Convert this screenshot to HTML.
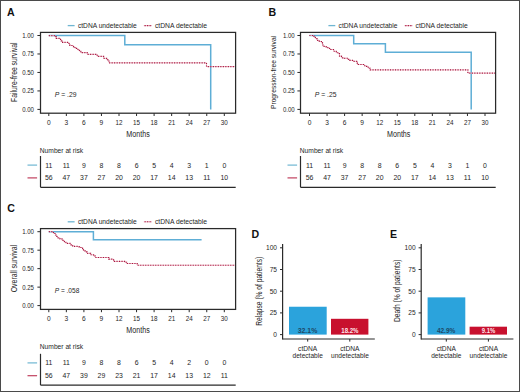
<!DOCTYPE html>
<html><head><meta charset="utf-8"><style>
html,body{margin:0;padding:0;background:#fff;}
#fig{position:relative;width:520px;height:392px;overflow:hidden;}
svg{display:block;}
text{font-family:"Liberation Sans", sans-serif;}
</style></head><body><div id="fig">
<svg width="520" height="392" viewBox="0 0 520 392" font-family='"Liberation Sans", sans-serif' fill="#262626">
<rect x="0" y="0" width="520" height="392" fill="#fff"/>
<g transform="translate(0,0)">
<text x="7.00" y="15.60" font-size="10.6" font-weight="bold" fill="#111">A</text>
<line x1="67.70" y1="25.60" x2="74.60" y2="25.60" stroke="#6fb6d2" stroke-width="1.3"/>
<text x="77.90" y="27.50" font-size="6.7" textLength="58.90" lengthAdjust="spacingAndGlyphs" fill="#262626">ctDNA undetectable</text>
<line x1="143.80" y1="25.60" x2="151.90" y2="25.60" stroke="#e9b5c3" stroke-width="1.2"/>
<line x1="144.60" y1="25.60" x2="151.90" y2="25.60" stroke="#a8173f" stroke-width="1.1" stroke-dasharray="1.1 1.4"/>
<text x="154.90" y="27.50" font-size="6.7" textLength="52.20" lengthAdjust="spacingAndGlyphs" fill="#262626">ctDNA detectable</text>
<line x1="37.40" y1="109.40" x2="40.40" y2="109.40" stroke="#2a2a2a" stroke-width="1"/>
<text x="34.00" y="111.80" font-size="6.8" text-anchor="end" textLength="11.80" lengthAdjust="spacingAndGlyphs" fill="#262626">0.00</text>
<line x1="37.40" y1="90.93" x2="40.40" y2="90.93" stroke="#2a2a2a" stroke-width="1"/>
<text x="34.00" y="93.33" font-size="6.8" text-anchor="end" textLength="11.80" lengthAdjust="spacingAndGlyphs" fill="#262626">0.25</text>
<line x1="37.40" y1="72.45" x2="40.40" y2="72.45" stroke="#2a2a2a" stroke-width="1"/>
<text x="34.00" y="74.85" font-size="6.8" text-anchor="end" textLength="11.80" lengthAdjust="spacingAndGlyphs" fill="#262626">0.50</text>
<line x1="37.40" y1="53.98" x2="40.40" y2="53.98" stroke="#2a2a2a" stroke-width="1"/>
<text x="34.00" y="56.38" font-size="6.8" text-anchor="end" textLength="11.80" lengthAdjust="spacingAndGlyphs" fill="#262626">0.75</text>
<line x1="37.40" y1="35.50" x2="40.40" y2="35.50" stroke="#2a2a2a" stroke-width="1"/>
<text x="34.00" y="37.90" font-size="6.8" text-anchor="end" textLength="11.80" lengthAdjust="spacingAndGlyphs" fill="#262626">1.00</text>
<line x1="48.80" y1="113.20" x2="48.80" y2="116.00" stroke="#2a2a2a" stroke-width="1"/>
<text x="48.80" y="124.70" font-size="6.6" text-anchor="middle" fill="#262626">0</text>
<line x1="66.35" y1="113.20" x2="66.35" y2="116.00" stroke="#2a2a2a" stroke-width="1"/>
<text x="66.35" y="124.70" font-size="6.6" text-anchor="middle" fill="#262626">3</text>
<line x1="83.90" y1="113.20" x2="83.90" y2="116.00" stroke="#2a2a2a" stroke-width="1"/>
<text x="83.90" y="124.70" font-size="6.6" text-anchor="middle" fill="#262626">6</text>
<line x1="101.45" y1="113.20" x2="101.45" y2="116.00" stroke="#2a2a2a" stroke-width="1"/>
<text x="101.45" y="124.70" font-size="6.6" text-anchor="middle" fill="#262626">9</text>
<line x1="119.00" y1="113.20" x2="119.00" y2="116.00" stroke="#2a2a2a" stroke-width="1"/>
<text x="119.00" y="124.70" font-size="6.6" text-anchor="middle" textLength="7.00" lengthAdjust="spacingAndGlyphs" fill="#262626">12</text>
<line x1="136.55" y1="113.20" x2="136.55" y2="116.00" stroke="#2a2a2a" stroke-width="1"/>
<text x="136.55" y="124.70" font-size="6.6" text-anchor="middle" textLength="7.00" lengthAdjust="spacingAndGlyphs" fill="#262626">15</text>
<line x1="154.10" y1="113.20" x2="154.10" y2="116.00" stroke="#2a2a2a" stroke-width="1"/>
<text x="154.10" y="124.70" font-size="6.6" text-anchor="middle" textLength="7.00" lengthAdjust="spacingAndGlyphs" fill="#262626">18</text>
<line x1="171.65" y1="113.20" x2="171.65" y2="116.00" stroke="#2a2a2a" stroke-width="1"/>
<text x="171.65" y="124.70" font-size="6.6" text-anchor="middle" textLength="7.00" lengthAdjust="spacingAndGlyphs" fill="#262626">21</text>
<line x1="189.20" y1="113.20" x2="189.20" y2="116.00" stroke="#2a2a2a" stroke-width="1"/>
<text x="189.20" y="124.70" font-size="6.6" text-anchor="middle" textLength="7.00" lengthAdjust="spacingAndGlyphs" fill="#262626">24</text>
<line x1="206.75" y1="113.20" x2="206.75" y2="116.00" stroke="#2a2a2a" stroke-width="1"/>
<text x="206.75" y="124.70" font-size="6.6" text-anchor="middle" textLength="7.00" lengthAdjust="spacingAndGlyphs" fill="#262626">27</text>
<line x1="224.30" y1="113.20" x2="224.30" y2="116.00" stroke="#2a2a2a" stroke-width="1"/>
<text x="224.30" y="124.70" font-size="6.6" text-anchor="middle" textLength="7.00" lengthAdjust="spacingAndGlyphs" fill="#262626">30</text>
<text x="138.00" y="137.00" font-size="8.4" text-anchor="middle" textLength="23.40" lengthAdjust="spacingAndGlyphs" fill="#262626">Months</text>
<text transform="translate(17.00,72.20) rotate(-90)" font-size="8.2" text-anchor="middle" textLength="59.60" lengthAdjust="spacingAndGlyphs" fill="#262626">Failure-free survival</text>
<text x="54.7" y="96.9" font-size="7.2" textLength="21.80" lengthAdjust="spacingAndGlyphs" fill="#262626"><tspan font-style="italic">P</tspan> = .29</text>
<path d="M48.80,35.50H124.80V44.80H210.70V109.40" fill="none" stroke="#5eaed6" stroke-width="1.5"/>
<path d="M48.80,35.60H55.00V36.60H56.30V38.40H60.00V39.40H61.20V40.80H62.60V42.40H69.00V44.00H69.80V45.50H73.50V46.90H75.00V48.40H78.00V50.20H79.50V51.20H80.80V52.60H87.20V54.30H97.20V56.30H103.60V58.30H106.60V59.60H107.80V61.00H109.00V62.80H206.50V66.60H235.60" fill="none" stroke="#ecbac8" stroke-width="1.0"/>
<path d="M48.80,35.60H55.00V36.60H56.30V38.40H60.00V39.40H61.20V40.80H62.60V42.40H69.00V44.00H69.80V45.50H73.50V46.90H75.00V48.40H78.00V50.20H79.50V51.20H80.80V52.60H87.20V54.30H97.20V56.30H103.60V58.30H106.60V59.60H107.80V61.00H109.00V62.80H206.50V66.60H235.60" fill="none" stroke="#a8173f" stroke-width="1.15" stroke-dasharray="1.1 1.4"/>
<rect x="40.5" y="32.4" width="195.1" height="80.8" fill="none" stroke="#2a2a2a" stroke-width="1.25"/>
<text x="39.80" y="153.20" font-size="6.7" textLength="43.40" lengthAdjust="spacingAndGlyphs" fill="#262626">Number at risk</text>
<line x1="40.50" y1="156.00" x2="40.50" y2="187.30" stroke="#2a2a2a" stroke-width="1.2"/>
<line x1="40.50" y1="187.30" x2="235.70" y2="187.30" stroke="#2a2a2a" stroke-width="1.2"/>
<line x1="27.50" y1="165.10" x2="37.10" y2="165.10" stroke="#6fb6d2" stroke-width="1.2"/>
<line x1="27.50" y1="177.90" x2="37.10" y2="177.90" stroke="#c0405e" stroke-width="1.2"/>
<text x="48.80" y="167.60" font-size="6.9" text-anchor="middle" fill="#262626">11</text>
<text x="66.35" y="167.60" font-size="6.9" text-anchor="middle" fill="#262626">11</text>
<text x="83.90" y="167.60" font-size="6.9" text-anchor="middle" fill="#262626">9</text>
<text x="101.45" y="167.60" font-size="6.9" text-anchor="middle" fill="#262626">8</text>
<text x="119.00" y="167.60" font-size="6.9" text-anchor="middle" fill="#262626">8</text>
<text x="136.55" y="167.60" font-size="6.9" text-anchor="middle" fill="#262626">6</text>
<text x="154.10" y="167.60" font-size="6.9" text-anchor="middle" fill="#262626">5</text>
<text x="171.65" y="167.60" font-size="6.9" text-anchor="middle" fill="#262626">4</text>
<text x="189.20" y="167.60" font-size="6.9" text-anchor="middle" fill="#262626">3</text>
<text x="206.75" y="167.60" font-size="6.9" text-anchor="middle" fill="#262626">1</text>
<text x="224.30" y="167.60" font-size="6.9" text-anchor="middle" fill="#262626">0</text>
<text x="48.80" y="180.10" font-size="6.9" text-anchor="middle" fill="#262626">56</text>
<text x="66.35" y="180.10" font-size="6.9" text-anchor="middle" fill="#262626">47</text>
<text x="83.90" y="180.10" font-size="6.9" text-anchor="middle" fill="#262626">37</text>
<text x="101.45" y="180.10" font-size="6.9" text-anchor="middle" fill="#262626">27</text>
<text x="119.00" y="180.10" font-size="6.9" text-anchor="middle" fill="#262626">20</text>
<text x="136.55" y="180.10" font-size="6.9" text-anchor="middle" fill="#262626">20</text>
<text x="154.10" y="180.10" font-size="6.9" text-anchor="middle" fill="#262626">17</text>
<text x="171.65" y="180.10" font-size="6.9" text-anchor="middle" fill="#262626">14</text>
<text x="189.20" y="180.10" font-size="6.9" text-anchor="middle" fill="#262626">13</text>
<text x="206.75" y="180.10" font-size="6.9" text-anchor="middle" fill="#262626">11</text>
<text x="224.30" y="180.10" font-size="6.9" text-anchor="middle" fill="#262626">10</text>
</g>
<g transform="translate(260,0)">
<text x="8.40" y="15.60" font-size="10.6" font-weight="bold" fill="#111">B</text>
<line x1="68.40" y1="25.60" x2="75.30" y2="25.60" stroke="#6fb6d2" stroke-width="1.3"/>
<text x="78.60" y="27.50" font-size="6.7" textLength="58.90" lengthAdjust="spacingAndGlyphs" fill="#262626">ctDNA undetectable</text>
<line x1="144.50" y1="25.60" x2="152.60" y2="25.60" stroke="#e9b5c3" stroke-width="1.2"/>
<line x1="145.30" y1="25.60" x2="152.60" y2="25.60" stroke="#a8173f" stroke-width="1.1" stroke-dasharray="1.1 1.4"/>
<text x="155.60" y="27.50" font-size="6.7" textLength="52.20" lengthAdjust="spacingAndGlyphs" fill="#262626">ctDNA detectable</text>
<line x1="37.40" y1="109.40" x2="40.40" y2="109.40" stroke="#2a2a2a" stroke-width="1"/>
<text x="34.70" y="111.80" font-size="6.8" text-anchor="end" textLength="11.80" lengthAdjust="spacingAndGlyphs" fill="#262626">0.00</text>
<line x1="37.40" y1="90.93" x2="40.40" y2="90.93" stroke="#2a2a2a" stroke-width="1"/>
<text x="34.70" y="93.33" font-size="6.8" text-anchor="end" textLength="11.80" lengthAdjust="spacingAndGlyphs" fill="#262626">0.25</text>
<line x1="37.40" y1="72.45" x2="40.40" y2="72.45" stroke="#2a2a2a" stroke-width="1"/>
<text x="34.70" y="74.85" font-size="6.8" text-anchor="end" textLength="11.80" lengthAdjust="spacingAndGlyphs" fill="#262626">0.50</text>
<line x1="37.40" y1="53.98" x2="40.40" y2="53.98" stroke="#2a2a2a" stroke-width="1"/>
<text x="34.70" y="56.38" font-size="6.8" text-anchor="end" textLength="11.80" lengthAdjust="spacingAndGlyphs" fill="#262626">0.75</text>
<line x1="37.40" y1="35.50" x2="40.40" y2="35.50" stroke="#2a2a2a" stroke-width="1"/>
<text x="34.70" y="37.90" font-size="6.8" text-anchor="end" textLength="11.80" lengthAdjust="spacingAndGlyphs" fill="#262626">1.00</text>
<line x1="49.50" y1="113.20" x2="49.50" y2="116.00" stroke="#2a2a2a" stroke-width="1"/>
<text x="49.50" y="124.70" font-size="6.6" text-anchor="middle" fill="#262626">0</text>
<line x1="67.05" y1="113.20" x2="67.05" y2="116.00" stroke="#2a2a2a" stroke-width="1"/>
<text x="67.05" y="124.70" font-size="6.6" text-anchor="middle" fill="#262626">3</text>
<line x1="84.60" y1="113.20" x2="84.60" y2="116.00" stroke="#2a2a2a" stroke-width="1"/>
<text x="84.60" y="124.70" font-size="6.6" text-anchor="middle" fill="#262626">6</text>
<line x1="102.15" y1="113.20" x2="102.15" y2="116.00" stroke="#2a2a2a" stroke-width="1"/>
<text x="102.15" y="124.70" font-size="6.6" text-anchor="middle" fill="#262626">9</text>
<line x1="119.70" y1="113.20" x2="119.70" y2="116.00" stroke="#2a2a2a" stroke-width="1"/>
<text x="119.70" y="124.70" font-size="6.6" text-anchor="middle" textLength="7.00" lengthAdjust="spacingAndGlyphs" fill="#262626">12</text>
<line x1="137.25" y1="113.20" x2="137.25" y2="116.00" stroke="#2a2a2a" stroke-width="1"/>
<text x="137.25" y="124.70" font-size="6.6" text-anchor="middle" textLength="7.00" lengthAdjust="spacingAndGlyphs" fill="#262626">15</text>
<line x1="154.80" y1="113.20" x2="154.80" y2="116.00" stroke="#2a2a2a" stroke-width="1"/>
<text x="154.80" y="124.70" font-size="6.6" text-anchor="middle" textLength="7.00" lengthAdjust="spacingAndGlyphs" fill="#262626">18</text>
<line x1="172.35" y1="113.20" x2="172.35" y2="116.00" stroke="#2a2a2a" stroke-width="1"/>
<text x="172.35" y="124.70" font-size="6.6" text-anchor="middle" textLength="7.00" lengthAdjust="spacingAndGlyphs" fill="#262626">21</text>
<line x1="189.90" y1="113.20" x2="189.90" y2="116.00" stroke="#2a2a2a" stroke-width="1"/>
<text x="189.90" y="124.70" font-size="6.6" text-anchor="middle" textLength="7.00" lengthAdjust="spacingAndGlyphs" fill="#262626">24</text>
<line x1="207.45" y1="113.20" x2="207.45" y2="116.00" stroke="#2a2a2a" stroke-width="1"/>
<text x="207.45" y="124.70" font-size="6.6" text-anchor="middle" textLength="7.00" lengthAdjust="spacingAndGlyphs" fill="#262626">27</text>
<line x1="225.00" y1="113.20" x2="225.00" y2="116.00" stroke="#2a2a2a" stroke-width="1"/>
<text x="225.00" y="124.70" font-size="6.6" text-anchor="middle" textLength="7.00" lengthAdjust="spacingAndGlyphs" fill="#262626">30</text>
<text x="138.70" y="137.00" font-size="8.4" text-anchor="middle" textLength="23.40" lengthAdjust="spacingAndGlyphs" fill="#262626">Months</text>
<text transform="translate(16.00,72.45) rotate(-90)" font-size="7.6" text-anchor="middle" textLength="72.90" lengthAdjust="spacingAndGlyphs" fill="#262626">Progression-free survival</text>
<text x="54.7" y="96.9" font-size="7.2" textLength="21.80" lengthAdjust="spacingAndGlyphs" fill="#262626"><tspan font-style="italic">P</tspan> = .25</text>
<path d="M49.40,35.50H93.70V43.70H125.40V52.30H211.20V109.40" fill="none" stroke="#5eaed6" stroke-width="1.5"/>
<path d="M49.40,35.50H52.60V36.00H54.00V37.30H55.40V38.60H57.00V40.30H59.30V41.50H61.40V42.60H62.50V44.00H62.90V46.30H65.10V46.80H66.50V47.60H69.50V48.50H70.50V49.50H73.50V51.20H76.30V52.70H78.70V53.60H79.50V56.10H81.50V57.80H84.40V58.20H87.30V59.30H89.90V60.40H93.10V61.30H97.30V63.40H98.00V64.50H104.50V65.70H106.50V66.30H108.20V68.20H110.20V69.90H207.90V73.10H235.60" fill="none" stroke="#ecbac8" stroke-width="1.0"/>
<path d="M49.40,35.50H52.60V36.00H54.00V37.30H55.40V38.60H57.00V40.30H59.30V41.50H61.40V42.60H62.50V44.00H62.90V46.30H65.10V46.80H66.50V47.60H69.50V48.50H70.50V49.50H73.50V51.20H76.30V52.70H78.70V53.60H79.50V56.10H81.50V57.80H84.40V58.20H87.30V59.30H89.90V60.40H93.10V61.30H97.30V63.40H98.00V64.50H104.50V65.70H106.50V66.30H108.20V68.20H110.20V69.90H207.90V73.10H235.60" fill="none" stroke="#a8173f" stroke-width="1.15" stroke-dasharray="1.1 1.4"/>
<rect x="40.5" y="32.4" width="195.1" height="80.8" fill="none" stroke="#2a2a2a" stroke-width="1.25"/>
<text x="39.80" y="153.20" font-size="6.7" textLength="43.40" lengthAdjust="spacingAndGlyphs" fill="#262626">Number at risk</text>
<line x1="40.50" y1="156.00" x2="40.50" y2="187.30" stroke="#2a2a2a" stroke-width="1.2"/>
<line x1="40.50" y1="187.30" x2="235.70" y2="187.30" stroke="#2a2a2a" stroke-width="1.2"/>
<line x1="27.50" y1="165.10" x2="37.10" y2="165.10" stroke="#6fb6d2" stroke-width="1.2"/>
<line x1="27.50" y1="177.90" x2="37.10" y2="177.90" stroke="#c0405e" stroke-width="1.2"/>
<text x="49.50" y="167.60" font-size="6.9" text-anchor="middle" fill="#262626">11</text>
<text x="67.05" y="167.60" font-size="6.9" text-anchor="middle" fill="#262626">11</text>
<text x="84.60" y="167.60" font-size="6.9" text-anchor="middle" fill="#262626">9</text>
<text x="102.15" y="167.60" font-size="6.9" text-anchor="middle" fill="#262626">8</text>
<text x="119.70" y="167.60" font-size="6.9" text-anchor="middle" fill="#262626">8</text>
<text x="137.25" y="167.60" font-size="6.9" text-anchor="middle" fill="#262626">6</text>
<text x="154.80" y="167.60" font-size="6.9" text-anchor="middle" fill="#262626">5</text>
<text x="172.35" y="167.60" font-size="6.9" text-anchor="middle" fill="#262626">4</text>
<text x="189.90" y="167.60" font-size="6.9" text-anchor="middle" fill="#262626">3</text>
<text x="207.45" y="167.60" font-size="6.9" text-anchor="middle" fill="#262626">1</text>
<text x="225.00" y="167.60" font-size="6.9" text-anchor="middle" fill="#262626">0</text>
<text x="49.50" y="180.10" font-size="6.9" text-anchor="middle" fill="#262626">56</text>
<text x="67.05" y="180.10" font-size="6.9" text-anchor="middle" fill="#262626">47</text>
<text x="84.60" y="180.10" font-size="6.9" text-anchor="middle" fill="#262626">37</text>
<text x="102.15" y="180.10" font-size="6.9" text-anchor="middle" fill="#262626">27</text>
<text x="119.70" y="180.10" font-size="6.9" text-anchor="middle" fill="#262626">20</text>
<text x="137.25" y="180.10" font-size="6.9" text-anchor="middle" fill="#262626">20</text>
<text x="154.80" y="180.10" font-size="6.9" text-anchor="middle" fill="#262626">17</text>
<text x="172.35" y="180.10" font-size="6.9" text-anchor="middle" fill="#262626">14</text>
<text x="189.90" y="180.10" font-size="6.9" text-anchor="middle" fill="#262626">13</text>
<text x="207.45" y="180.10" font-size="6.9" text-anchor="middle" fill="#262626">11</text>
<text x="225.00" y="180.10" font-size="6.9" text-anchor="middle" fill="#262626">10</text>
</g>
<g transform="translate(0,196.2)">
<text x="7.30" y="15.60" font-size="10.6" font-weight="bold" fill="#111">C</text>
<line x1="67.70" y1="25.60" x2="74.60" y2="25.60" stroke="#6fb6d2" stroke-width="1.3"/>
<text x="77.90" y="27.50" font-size="6.7" textLength="58.90" lengthAdjust="spacingAndGlyphs" fill="#262626">ctDNA undetectable</text>
<line x1="143.80" y1="25.60" x2="151.90" y2="25.60" stroke="#e9b5c3" stroke-width="1.2"/>
<line x1="144.60" y1="25.60" x2="151.90" y2="25.60" stroke="#a8173f" stroke-width="1.1" stroke-dasharray="1.1 1.4"/>
<text x="154.90" y="27.50" font-size="6.7" textLength="52.20" lengthAdjust="spacingAndGlyphs" fill="#262626">ctDNA detectable</text>
<line x1="37.40" y1="109.40" x2="40.40" y2="109.40" stroke="#2a2a2a" stroke-width="1"/>
<text x="34.00" y="111.80" font-size="6.8" text-anchor="end" textLength="11.80" lengthAdjust="spacingAndGlyphs" fill="#262626">0.00</text>
<line x1="37.40" y1="90.93" x2="40.40" y2="90.93" stroke="#2a2a2a" stroke-width="1"/>
<text x="34.00" y="93.33" font-size="6.8" text-anchor="end" textLength="11.80" lengthAdjust="spacingAndGlyphs" fill="#262626">0.25</text>
<line x1="37.40" y1="72.45" x2="40.40" y2="72.45" stroke="#2a2a2a" stroke-width="1"/>
<text x="34.00" y="74.85" font-size="6.8" text-anchor="end" textLength="11.80" lengthAdjust="spacingAndGlyphs" fill="#262626">0.50</text>
<line x1="37.40" y1="53.98" x2="40.40" y2="53.98" stroke="#2a2a2a" stroke-width="1"/>
<text x="34.00" y="56.38" font-size="6.8" text-anchor="end" textLength="11.80" lengthAdjust="spacingAndGlyphs" fill="#262626">0.75</text>
<line x1="37.40" y1="35.50" x2="40.40" y2="35.50" stroke="#2a2a2a" stroke-width="1"/>
<text x="34.00" y="37.90" font-size="6.8" text-anchor="end" textLength="11.80" lengthAdjust="spacingAndGlyphs" fill="#262626">1.00</text>
<line x1="48.80" y1="113.20" x2="48.80" y2="116.00" stroke="#2a2a2a" stroke-width="1"/>
<text x="48.80" y="124.70" font-size="6.6" text-anchor="middle" fill="#262626">0</text>
<line x1="66.35" y1="113.20" x2="66.35" y2="116.00" stroke="#2a2a2a" stroke-width="1"/>
<text x="66.35" y="124.70" font-size="6.6" text-anchor="middle" fill="#262626">3</text>
<line x1="83.90" y1="113.20" x2="83.90" y2="116.00" stroke="#2a2a2a" stroke-width="1"/>
<text x="83.90" y="124.70" font-size="6.6" text-anchor="middle" fill="#262626">6</text>
<line x1="101.45" y1="113.20" x2="101.45" y2="116.00" stroke="#2a2a2a" stroke-width="1"/>
<text x="101.45" y="124.70" font-size="6.6" text-anchor="middle" fill="#262626">9</text>
<line x1="119.00" y1="113.20" x2="119.00" y2="116.00" stroke="#2a2a2a" stroke-width="1"/>
<text x="119.00" y="124.70" font-size="6.6" text-anchor="middle" textLength="7.00" lengthAdjust="spacingAndGlyphs" fill="#262626">12</text>
<line x1="136.55" y1="113.20" x2="136.55" y2="116.00" stroke="#2a2a2a" stroke-width="1"/>
<text x="136.55" y="124.70" font-size="6.6" text-anchor="middle" textLength="7.00" lengthAdjust="spacingAndGlyphs" fill="#262626">15</text>
<line x1="154.10" y1="113.20" x2="154.10" y2="116.00" stroke="#2a2a2a" stroke-width="1"/>
<text x="154.10" y="124.70" font-size="6.6" text-anchor="middle" textLength="7.00" lengthAdjust="spacingAndGlyphs" fill="#262626">18</text>
<line x1="171.65" y1="113.20" x2="171.65" y2="116.00" stroke="#2a2a2a" stroke-width="1"/>
<text x="171.65" y="124.70" font-size="6.6" text-anchor="middle" textLength="7.00" lengthAdjust="spacingAndGlyphs" fill="#262626">21</text>
<line x1="189.20" y1="113.20" x2="189.20" y2="116.00" stroke="#2a2a2a" stroke-width="1"/>
<text x="189.20" y="124.70" font-size="6.6" text-anchor="middle" textLength="7.00" lengthAdjust="spacingAndGlyphs" fill="#262626">24</text>
<line x1="206.75" y1="113.20" x2="206.75" y2="116.00" stroke="#2a2a2a" stroke-width="1"/>
<text x="206.75" y="124.70" font-size="6.6" text-anchor="middle" textLength="7.00" lengthAdjust="spacingAndGlyphs" fill="#262626">27</text>
<line x1="224.30" y1="113.20" x2="224.30" y2="116.00" stroke="#2a2a2a" stroke-width="1"/>
<text x="224.30" y="124.70" font-size="6.6" text-anchor="middle" textLength="7.00" lengthAdjust="spacingAndGlyphs" fill="#262626">30</text>
<text x="138.00" y="137.00" font-size="8.4" text-anchor="middle" textLength="23.40" lengthAdjust="spacingAndGlyphs" fill="#262626">Months</text>
<text transform="translate(17.00,72.40) rotate(-90)" font-size="8.2" text-anchor="middle" textLength="47.40" lengthAdjust="spacingAndGlyphs" fill="#262626">Overall survival</text>
<text x="54.7" y="96.9" font-size="7.2" textLength="24.60" lengthAdjust="spacingAndGlyphs" fill="#262626"><tspan font-style="italic">P</tspan> = .058</text>
<path d="M48.80,35.50H93.40V43.60H201.60" fill="none" stroke="#5eaed6" stroke-width="1.5"/>
<path d="M48.80,35.40H52.50V36.30H53.50V37.30H55.50V38.80H56.80V40.30H57.60V41.60H60.00V42.60H62.00V44.20H64.40V46.20H65.90V47.20H70.00V48.00H71.20V49.00H72.60V49.60H74.00V50.20H78.00V50.60H79.50V51.30H82.60V53.30H83.50V54.30H85.00V55.60H87.00V57.10H90.60V58.60H93.60V59.80H95.40V61.30H108.80V63.00H113.60V65.20H124.60V66.00H126.60V67.30H137.20V69.00H235.60" fill="none" stroke="#ecbac8" stroke-width="1.0"/>
<path d="M48.80,35.40H52.50V36.30H53.50V37.30H55.50V38.80H56.80V40.30H57.60V41.60H60.00V42.60H62.00V44.20H64.40V46.20H65.90V47.20H70.00V48.00H71.20V49.00H72.60V49.60H74.00V50.20H78.00V50.60H79.50V51.30H82.60V53.30H83.50V54.30H85.00V55.60H87.00V57.10H90.60V58.60H93.60V59.80H95.40V61.30H108.80V63.00H113.60V65.20H124.60V66.00H126.60V67.30H137.20V69.00H235.60" fill="none" stroke="#a8173f" stroke-width="1.15" stroke-dasharray="1.1 1.4"/>
<rect x="40.5" y="32.4" width="195.1" height="80.8" fill="none" stroke="#2a2a2a" stroke-width="1.25"/>
<text x="39.80" y="153.20" font-size="6.7" textLength="43.40" lengthAdjust="spacingAndGlyphs" fill="#262626">Number at risk</text>
<line x1="40.50" y1="157.60" x2="40.50" y2="188.90" stroke="#2a2a2a" stroke-width="1.2"/>
<line x1="40.50" y1="188.90" x2="235.70" y2="188.90" stroke="#2a2a2a" stroke-width="1.2"/>
<line x1="27.50" y1="166.70" x2="37.10" y2="166.70" stroke="#6fb6d2" stroke-width="1.2"/>
<line x1="27.50" y1="179.50" x2="37.10" y2="179.50" stroke="#c0405e" stroke-width="1.2"/>
<text x="48.80" y="169.20" font-size="6.9" text-anchor="middle" fill="#262626">11</text>
<text x="66.35" y="169.20" font-size="6.9" text-anchor="middle" fill="#262626">11</text>
<text x="83.90" y="169.20" font-size="6.9" text-anchor="middle" fill="#262626">9</text>
<text x="101.45" y="169.20" font-size="6.9" text-anchor="middle" fill="#262626">8</text>
<text x="119.00" y="169.20" font-size="6.9" text-anchor="middle" fill="#262626">8</text>
<text x="136.55" y="169.20" font-size="6.9" text-anchor="middle" fill="#262626">6</text>
<text x="154.10" y="169.20" font-size="6.9" text-anchor="middle" fill="#262626">5</text>
<text x="171.65" y="169.20" font-size="6.9" text-anchor="middle" fill="#262626">4</text>
<text x="189.20" y="169.20" font-size="6.9" text-anchor="middle" fill="#262626">2</text>
<text x="206.75" y="169.20" font-size="6.9" text-anchor="middle" fill="#262626">0</text>
<text x="224.30" y="169.20" font-size="6.9" text-anchor="middle" fill="#262626">0</text>
<text x="48.80" y="181.70" font-size="6.9" text-anchor="middle" fill="#262626">56</text>
<text x="66.35" y="181.70" font-size="6.9" text-anchor="middle" fill="#262626">47</text>
<text x="83.90" y="181.70" font-size="6.9" text-anchor="middle" fill="#262626">39</text>
<text x="101.45" y="181.70" font-size="6.9" text-anchor="middle" fill="#262626">29</text>
<text x="119.00" y="181.70" font-size="6.9" text-anchor="middle" fill="#262626">23</text>
<text x="136.55" y="181.70" font-size="6.9" text-anchor="middle" fill="#262626">21</text>
<text x="154.10" y="181.70" font-size="6.9" text-anchor="middle" fill="#262626">17</text>
<text x="171.65" y="181.70" font-size="6.9" text-anchor="middle" fill="#262626">14</text>
<text x="189.20" y="181.70" font-size="6.9" text-anchor="middle" fill="#262626">13</text>
<text x="206.75" y="181.70" font-size="6.9" text-anchor="middle" fill="#262626">12</text>
<text x="224.30" y="181.70" font-size="6.9" text-anchor="middle" fill="#262626">11</text>
</g>
<g transform="translate(0,0)">
<text x="251.40" y="237.90" font-size="10.6" font-weight="bold" fill="#111">D</text>
<line x1="282.60" y1="244.00" x2="282.60" y2="339.60" stroke="#2a2a2a" stroke-width="1.2"/>
<line x1="280.00" y1="334.60" x2="282.60" y2="334.60" stroke="#2a2a2a" stroke-width="1"/>
<text x="277.00" y="336.90" font-size="6.6" text-anchor="end" fill="#262626">0</text>
<line x1="280.00" y1="312.90" x2="282.60" y2="312.90" stroke="#2a2a2a" stroke-width="1"/>
<text x="277.00" y="315.20" font-size="6.6" text-anchor="end" fill="#262626">25</text>
<line x1="280.00" y1="291.20" x2="282.60" y2="291.20" stroke="#2a2a2a" stroke-width="1"/>
<text x="277.00" y="293.50" font-size="6.6" text-anchor="end" fill="#262626">50</text>
<line x1="280.00" y1="269.50" x2="282.60" y2="269.50" stroke="#2a2a2a" stroke-width="1"/>
<text x="277.00" y="271.80" font-size="6.6" text-anchor="end" fill="#262626">75</text>
<line x1="280.00" y1="247.80" x2="282.60" y2="247.80" stroke="#2a2a2a" stroke-width="1"/>
<text x="277.00" y="250.10" font-size="6.6" text-anchor="end" fill="#262626">100</text>
<line x1="282.60" y1="339.00" x2="374.80" y2="339.00" stroke="#2a2a2a" stroke-width="1.2"/>
<line x1="307.70" y1="339.00" x2="307.70" y2="341.60" stroke="#2a2a2a" stroke-width="1"/>
<line x1="349.80" y1="339.00" x2="349.80" y2="341.60" stroke="#2a2a2a" stroke-width="1"/>
<rect x="289.0" y="306.74" width="37.7" height="27.86" fill="#2ba3dc"/>
<rect x="331.0" y="318.80" width="37.4" height="15.80" fill="#c8102e"/>
<text x="307.50" y="333.40" font-size="6.6" text-anchor="middle" textLength="19.60" lengthAdjust="spacingAndGlyphs" font-weight="bold" fill="#1d4866">32.1%</text>
<text x="349.90" y="333.40" font-size="6.6" text-anchor="middle" textLength="17.30" lengthAdjust="spacingAndGlyphs" font-weight="bold" fill="#ffe6ec">18.2%</text>
<text x="307.70" y="350.90" font-size="6.6" text-anchor="middle" textLength="19.20" lengthAdjust="spacingAndGlyphs" fill="#262626">ctDNA</text>
<text x="307.70" y="358.00" font-size="6.6" text-anchor="middle" textLength="30.20" lengthAdjust="spacingAndGlyphs" fill="#262626">detectable</text>
<text x="349.90" y="350.90" font-size="6.6" text-anchor="middle" textLength="19.20" lengthAdjust="spacingAndGlyphs" fill="#262626">ctDNA</text>
<text x="349.90" y="358.00" font-size="6.6" text-anchor="middle" textLength="37.80" lengthAdjust="spacingAndGlyphs" fill="#262626">undetectable</text>
<text transform="translate(262.20,291.30) rotate(-90)" font-size="8.2" text-anchor="middle" textLength="69.00" lengthAdjust="spacingAndGlyphs" fill="#262626">Relapse (% of patients)</text>
</g>
<g transform="translate(138.6,0)">
<text x="251.40" y="237.90" font-size="10.6" font-weight="bold" fill="#111">E</text>
<line x1="282.60" y1="244.00" x2="282.60" y2="339.60" stroke="#2a2a2a" stroke-width="1.2"/>
<line x1="280.00" y1="334.60" x2="282.60" y2="334.60" stroke="#2a2a2a" stroke-width="1"/>
<text x="277.00" y="336.90" font-size="6.6" text-anchor="end" fill="#262626">0</text>
<line x1="280.00" y1="312.90" x2="282.60" y2="312.90" stroke="#2a2a2a" stroke-width="1"/>
<text x="277.00" y="315.20" font-size="6.6" text-anchor="end" fill="#262626">25</text>
<line x1="280.00" y1="291.20" x2="282.60" y2="291.20" stroke="#2a2a2a" stroke-width="1"/>
<text x="277.00" y="293.50" font-size="6.6" text-anchor="end" fill="#262626">50</text>
<line x1="280.00" y1="269.50" x2="282.60" y2="269.50" stroke="#2a2a2a" stroke-width="1"/>
<text x="277.00" y="271.80" font-size="6.6" text-anchor="end" fill="#262626">75</text>
<line x1="280.00" y1="247.80" x2="282.60" y2="247.80" stroke="#2a2a2a" stroke-width="1"/>
<text x="277.00" y="250.10" font-size="6.6" text-anchor="end" fill="#262626">100</text>
<line x1="282.60" y1="339.00" x2="374.80" y2="339.00" stroke="#2a2a2a" stroke-width="1.2"/>
<line x1="307.70" y1="339.00" x2="307.70" y2="341.60" stroke="#2a2a2a" stroke-width="1"/>
<line x1="349.80" y1="339.00" x2="349.80" y2="341.60" stroke="#2a2a2a" stroke-width="1"/>
<rect x="289.0" y="297.36" width="37.7" height="37.24" fill="#2ba3dc"/>
<rect x="331.0" y="326.70" width="37.4" height="7.90" fill="#c8102e"/>
<text x="307.50" y="333.40" font-size="6.6" text-anchor="middle" textLength="18.40" lengthAdjust="spacingAndGlyphs" font-weight="bold" fill="#1d4866">42.9%</text>
<text x="349.90" y="333.40" font-size="6.6" text-anchor="middle" textLength="13.50" lengthAdjust="spacingAndGlyphs" font-weight="bold" fill="#ffe6ec">9.1%</text>
<text x="307.70" y="350.90" font-size="6.6" text-anchor="middle" textLength="19.20" lengthAdjust="spacingAndGlyphs" fill="#262626">ctDNA</text>
<text x="307.70" y="358.00" font-size="6.6" text-anchor="middle" textLength="30.20" lengthAdjust="spacingAndGlyphs" fill="#262626">detectable</text>
<text x="349.90" y="350.90" font-size="6.6" text-anchor="middle" textLength="19.20" lengthAdjust="spacingAndGlyphs" fill="#262626">ctDNA</text>
<text x="349.90" y="358.00" font-size="6.6" text-anchor="middle" textLength="37.80" lengthAdjust="spacingAndGlyphs" fill="#262626">undetectable</text>
<text transform="translate(260.90,290.75) rotate(-90)" font-size="8.2" text-anchor="middle" textLength="62.50" lengthAdjust="spacingAndGlyphs" fill="#262626">Death (% of patients)</text>
</g>
<rect x="0.5" y="0.5" width="519" height="391" fill="none" stroke="#4a4a4a" stroke-width="1"/>
</svg></div></body></html>
